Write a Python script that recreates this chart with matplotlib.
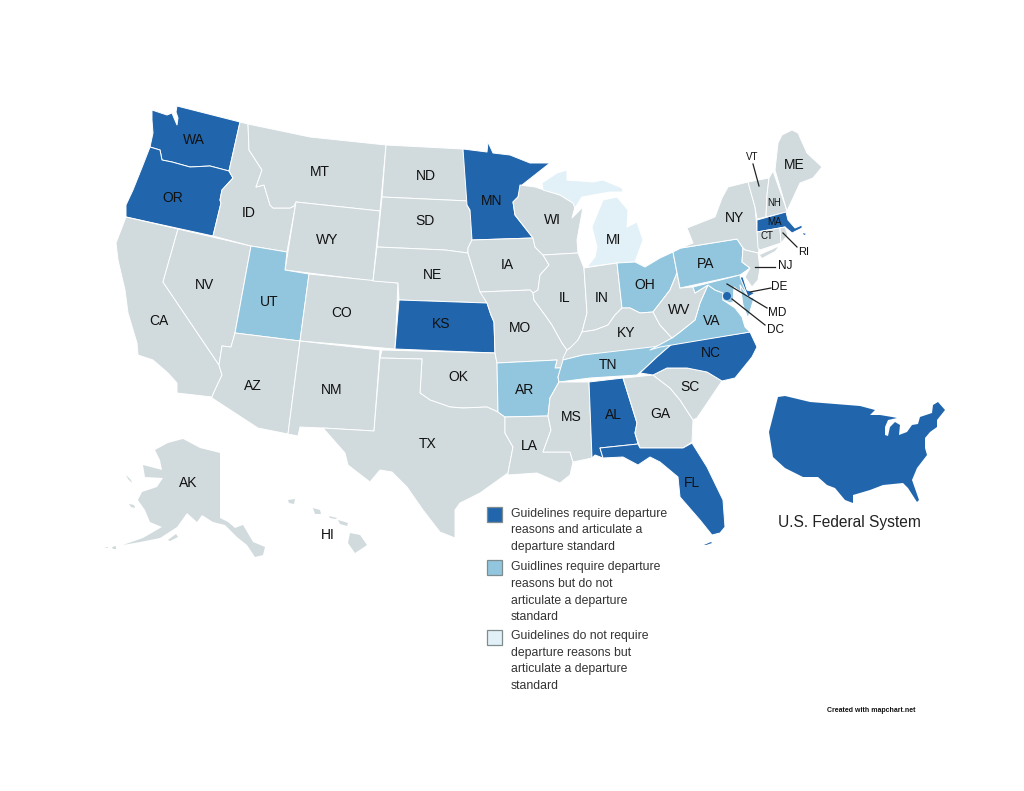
import matplotlib
matplotlib.use("Agg")
import matplotlib.pyplot as plt
from matplotlib.patches import Polygon, Rectangle, Circle

plt.rcParams['font.family'] = ['Liberation Sans', 'DejaVu Sans']

# ---- categories --------------------------------------------------------
full_states = ['WA', 'OR', 'MN', 'KS', 'MA', 'DE', 'NC', 'AL', 'FL']
partial_states = ['UT', 'AR', 'TN', 'OH', 'PA', 'VA', 'MD', 'MD_shore']
standard_only_states = ['MI', 'MI2']

legend_lines = [
    ["Guidelines require departure", "reasons and articulate a", "departure standard"],
    ["Guidlines require departure", "reasons but do not", "articulate a departure", "standard"],
    ["Guidelines do not require", "departure reasons but", "articulate a departure", "standard"],
]
legend_line_y = [[514, 530, 547], [567, 584, 601, 617], [636, 653, 669, 686]]
legend_box_y = [507, 560, 630]
federal_label = "U.S. Federal System"
credit_label = "Created with mapchart.net"

# ---- outlines (image pixel coordinates) ---------------------------------
west = {
    'WA': [(152,110),(167,115),(172,113),(174,118),(177,125),(178,118),(176,112),(177,106),(240,122),(229,171),(210,166),(190,167),(172,162),(162,160),(160,150),(150,147),(153,133),(152,120)],
    'OR': [(150,147),(160,150),(162,160),(172,162),(190,167),(210,166),(229,171),(233,178),(222,190),(220,200),(221,203),(213,236),(126,217),(126,205),(133,190),(143,165)],
    'CA': [(126,217),(178,229),(163,282),(219,365),(222,375),(214,392),(212,397),(177,393),(177,383),(168,373),(153,360),(138,355),(137,343),(128,313),(125,290),(118,260),(116,243)],
    'NV': [(178,229),(251,246),(235,333),(231,347),(222,346),(219,365),(163,282)],
    'ID': [(240,122),(248,124),(249,150),(262,170),(256,187),(264,185),(270,205),(273,208),(290,208),(294,206),(296,202),(287,252),(251,246),(213,236),(221,203),(220,200),(222,190),(233,178),(229,171)],
    'MT': [(248,124),(310,137),(386,145),(380,211),(296,202),(294,206),(290,208),(273,208),(270,205),(264,185),(256,187),(262,170),(249,150)],
    'WY': [(296,202),(380,211),(373,281),(285,270)],
    'UT': [(251,246),(287,252),(285,270),(309,274),(300,341),(235,333)],
    'CO': [(309,274),(398,283),(395,349),(300,341)],
    'AZ': [(235,333),(300,341),(288,434),(258,428),(212,398),(212,397),(214,392),(222,375),(219,365),(222,346),(231,347)],
    'NM': [(300,341),(380,350),(374,431),(323,428),(300,427),(298,436),(288,434)],
}
plains = {
    'ND': [(386,145),(463,149),(469,201),(382,197)],
    'SD': [(382,197),(469,201),(467,205),(472,215),(472,240),(468,248),(468,253),(445,250),(377,247)],
    'NE': [(377,247),(445,250),(468,253),(478,285),(487,303),(399,300),(398,283),(373,281)],
    'KS': [(399,300),(487,303),(491,315),(494,322),(495,353),(395,349)],
    'OK': [(382,350),(495,353),(497,363),(498,412),(487,407),(463,408),(450,407),(430,400),(420,393),(422,359),(380,358)],
    'TX': [(380,358),(422,359),(420,393),(430,400),(450,407),(463,408),(487,407),(498,412),(505,417),(505,433),(513,447),(508,473),(480,493),(460,503),(455,510),(455,538),(440,532),(423,510),(407,487),(392,472),(380,470),(370,482),(348,465),(345,453),(323,428),(374,431)],
    'MN': [(463,149),(487,152),(488,142),(493,153),(510,155),(530,163),(550,163),(522,185),(518,197),(513,202),(515,215),(533,238),(472,240),(470,210),(467,205)],
    'IA': [(472,240),(533,238),(535,247),(543,255),(549,265),(540,275),(538,290),(533,293),(530,290),(480,292),(468,253),(468,248)],
    'MO': [(480,292),(530,290),(533,293),(534,300),(545,315),(552,325),(562,343),(567,350),(561,368),(555,368),(557,360),(497,363),(495,353),(494,322),(491,315),(487,303)],
    'AR': [(497,363),(557,360),(555,368),(561,368),(558,377),(559,382),(550,398),(548,416),(505,417),(498,412)],
    'LA': [(505,417),(548,416),(551,430),(543,452),(570,452),(573,462),(570,475),(560,483),(537,473),(508,475),(508,473),(513,447),(505,433)],
}
midwest = {
    'WI': [(520,185),(535,187),(560,195),(573,203),(575,207),(572,218),(583,207),(577,240),(578,253),(543,255),(535,247),(533,238),(515,215),(513,202),(518,197)],
    'MI': [(542,183),(557,173),(567,170),(567,180),(593,182),(603,180),(622,188),(623,192),(610,192),(593,195),(582,197),(575,208),(573,203),(560,195),(543,190)],
    'MI2': [(598,212),(603,200),(617,197),(628,210),(627,227),(637,222),(643,240),(635,262),(617,263),(587,267),(595,257),(597,247),(592,227)],
    'IL': [(543,255),(578,253),(584,268),(587,313),(582,332),(578,340),(575,345),(570,348),(567,350),(562,343),(552,325),(545,315),(534,300),(533,293),(538,290),(540,275),(549,265)],
    'IN': [(584,268),(617,263),(622,308),(615,315),(608,325),(595,330),(582,332),(587,313)],
    'OH': [(617,263),(635,262),(645,267),(660,258),(673,252),(677,273),(670,290),(660,303),(653,312),(640,313),(630,308),(622,308)],
    'KY': [(582,332),(595,330),(608,325),(615,315),(622,308),(630,308),(640,313),(653,312),(660,325),(672,338),(660,345),(640,352),(605,357),(583,355),(563,360),(563,358),(567,350),(570,348),(578,340)],
}
south = {
    'TN': [(563,360),(583,355),(660,346),(672,344),(657,357),(643,370),(637,375),(590,378),(559,382),(558,377)],
    'MS': [(559,382),(589,382),(592,458),(573,462),(570,452),(543,452),(551,430),(548,416),(550,398)],
    'AL': [(589,382),(623,378),(637,423),(635,433),(638,444),(600,448),(603,458),(595,455),(592,458)],
    'GA': [(623,378),(653,375),(670,388),(680,400),(693,420),(692,442),(683,448),(640,448),(635,433),(637,423)],
    'SC': [(653,375),(667,368),(687,368),(707,372),(722,381),(697,418),(693,420),(680,400),(670,388)],
    'NC': [(640,373),(657,357),(672,344),(750,332),(757,347),(752,357),(735,378),(722,381),(707,372),(687,368),(667,368),(653,375)],
    'FL': [(600,448),(638,444),(640,448),(683,448),(692,443),(707,467),(723,500),(725,527),(720,533),(712,535),(700,520),(680,497),(678,477),(660,462),(650,457),(638,465),(623,457),(603,458)],
    'VA': [(650,350),(672,338),(680,332),(695,320),(700,303),(708,285),(715,290),(723,293),(723,300),(735,308),(742,317),(745,327),(750,332),(660,347)],
    'WV': [(677,273),(680,288),(693,287),(695,293),(708,285),(700,303),(695,320),(680,332),(672,338),(660,325),(653,312),(660,303),(670,290)],
}
northeast = {
    'PA': [(673,252),(681,248),(737,239),(743,248),(742,262),(750,268),(740,275),(680,288)],
    'NY': [(681,248),(693,243),(687,228),(715,217),(722,198),(728,187),(748,182),(755,207),(759,250),(758,253),(745,250),(743,248),(737,239)],
    'VT': [(748,182),(769,178),(767,195),(766,217),(757,219),(755,207)],
    'NH': [(769,178),(773,171),(785,205),(787,212),(766,217),(767,195)],
    'ME': [(775,170),(778,143),(782,135),(792,130),(798,133),(807,153),(822,167),(813,178),(800,183),(787,211)],
    'MA': [(757,220),(786,212),(788,220),(795,228),(802,225),(802,228),(792,233),(785,227),(757,232)],
    'CT': [(757,232),(780,228),(781,243),(760,250),(758,248)],
    'RI': [(780,228),(785,227),(788,235),(781,243)],
    'NJ': [(745,250),(758,253),(760,268),(758,280),(752,287),(745,277),(750,268),(742,262),(743,248)],
    'MD': [(693,287),(740,275),(748,297),(734,287),(733,302),(730,303),(723,300),(723,293),(715,290),(708,285),(695,293)],
    'MD_shore': [(740,285),(748,297),(754,298),(748,318),(743,305)],
    'DE': [(740,277),(743,277),(747,290),(755,293),(748,297)],
}
islands = {
    'AK': [(155,450),(168,443),(183,439),(200,448),(220,453),(220,518),(228,522),(235,528),(243,525),(253,542),(265,547),(263,555),(255,557),(247,545),(237,537),(225,525),(213,522),(202,515),(197,522),(187,513),(177,527),(160,538),(140,542),(123,545),(143,538),(162,527),(150,522),(145,510),(138,500),(142,492),(157,487),(163,478),(145,477),(143,465),(162,470),(160,460)],
    'AK_kodiak': [(168,540),(176,534),(178,537),(170,541)],
    'AK_a1': [(104,548),(108,547),(108,548)],
    'AK_a2': [(112,547),(116,546),(116,549),(113,549)],
    'AK_nunivak': [(129,504),(134,505),(135,508),(131,507)],
    'AK_sl': [(126,475),(131,480),(132,483),(128,479)],
    'HI_big': [(350,533),(360,535),(367,545),(355,553),(348,543)],
    'HI_maui': [(338,520),(348,523),(347,526),(340,524)],
    'HI_mol': [(329,516),(337,518),(336,519),(330,518)],
    'HI_oahu': [(313,508),(320,510),(321,514),(315,514)],
    'HI_kauai': [(288,500),(295,499),(294,504),(289,503)],
    'LI': [(760,255),(778,247),(775,251),(762,258)],
    'FL_keys': [(704,545),(711,542),(712,543),(706,545)],
    'MA_cape': [(803,233),(806,234),(804,235)],
}
federal_outline = [(778,397),(785,396),(810,402),(860,406),(875,410),(870,415),(880,415),(892,417),(897,418),(888,420),(885,427),(885,435),(888,436),(890,427),(895,422),(900,425),(899,435),(907,432),(912,425),(918,424),(920,417),(932,413),(933,405),(938,402),(945,410),(937,420),(937,427),(930,432),(925,438),(925,448),(927,455),(917,468),(912,480),(919,500),(917,502),(908,488),(903,483),(883,485),(870,490),(853,495),(853,503),(845,500),(835,488),(827,485),(818,477),(803,477),(785,468),(773,457),(769,432)]

state_labels = {
    'WA':(194,140),'OR':(173,198),'CA':(159,321),'NV':(204,285),'ID':(249,213),'MT':(320,172),'WY':(327,240),
    'UT':(269,302),'CO':(342,313),'AZ':(253,386),'NM':(332,390),'ND':(426,176),'SD':(425,221),'NE':(432,275),
    'KS':(441,324),'OK':(458,377),'TX':(428,444),'MN':(492,201),'IA':(507,265),'MO':(520,328),'AR':(525,390),
    'LA':(529,446),'WI':(552,220),'MI':(614,240),'IL':(565,298),'IN':(602,298),'OH':(645,285),'KY':(626,333),
    'TN':(608,365),'MS':(571,417),'AL':(613,415),'GA':(660,414),'SC':(690,387),'NC':(711,353),'FL':(692,483),
    'VA':(712,321),'WV':(679,310),'PA':(706,264),'NY':(735,218),'ME':(794,165),'AK':(188,483),'HI':(328,535),
}
small_labels = {
    'VT':(752,157,7),'NH':(774,203,7),'MA':(775,222,7),'CT':(767,236,7),
    'RI':(804,252,8),'NJ':(785,266,8.5),'DE':(779,287,8.5),'MD':(777,313,8.5),'DC':(776,330,8.5),
}
leader_lines = {
    'VT':((753,164),(759,186)),'RI':((783,233),(797,247)),'NJ':((755,267),(775,267)),
    'DE':((750,292),(771,288)),'MD':((727,284),(767,308)),'DC':((732,299),(765,325)),
}
dc_point = (727,296)

GRAY, DARK, MID, LIGHT = '#d1dadd', '#2166ac', '#92c5de', '#e2f1f8'

fig = plt.figure(figsize=(10.24, 7.91), dpi=100)
ax = fig.add_axes([0, 0, 1, 1])
ax.set_xlim(0, 1024)
ax.set_ylim(791, 0)
ax.axis('off')

def colour(name):
    if name in full_states: return DARK
    if name in partial_states: return MID
    if name in standard_only_states: return LIGHT
    return GRAY

for group in (west, plains, midwest, south, northeast):
    for name, pts in group.items():
        ax.add_patch(Polygon(pts, closed=True, fc=colour(name), ec='white', lw=0.7, joinstyle='round'))
for name, pts in islands.items():
    fc = DARK if name in ('FL_keys', 'MA_cape') else GRAY
    ax.add_patch(Polygon(pts, closed=True, fc=fc, ec='none'))
ax.add_patch(Circle(dc_point, 4, fc=DARK, ec='none', zorder=3))
ax.add_patch(Polygon(federal_outline, closed=True, fc=DARK, ec='none'))

for k, (p, q) in leader_lines.items():
    ax.plot([p[0], q[0]], [p[1], q[1]], color='#222222', lw=0.9, zorder=4)
for k, (x, y) in state_labels.items():
    ax.text(x, y, k, ha='center', va='center', fontsize=10, color='#111111', zorder=5)
for k, (x, y, s) in small_labels.items():
    ax.text(x, y, k, ha='center', va='center', fontsize=s, color='#111111', zorder=5)

for lines, ys, col, yb in zip(legend_lines, legend_line_y, (DARK, MID, LIGHT), legend_box_y):
    ax.add_patch(Rectangle((487, yb), 15, 15, fc=col, ec='#7f8c8d', lw=0.9))
    for line, y in zip(lines, ys):
        ax.text(511, y, line, ha='left', va='center', fontsize=8.85, color='#333333')

ax.text(849, 522, federal_label, ha='center', va='center', fontsize=11.2, color='#222222')
ax.text(871, 711, credit_label, ha='center', va='center', fontsize=5.0, fontweight='bold', color='#111111')

fig.savefig('out.png', dpi=100, facecolor='white')
